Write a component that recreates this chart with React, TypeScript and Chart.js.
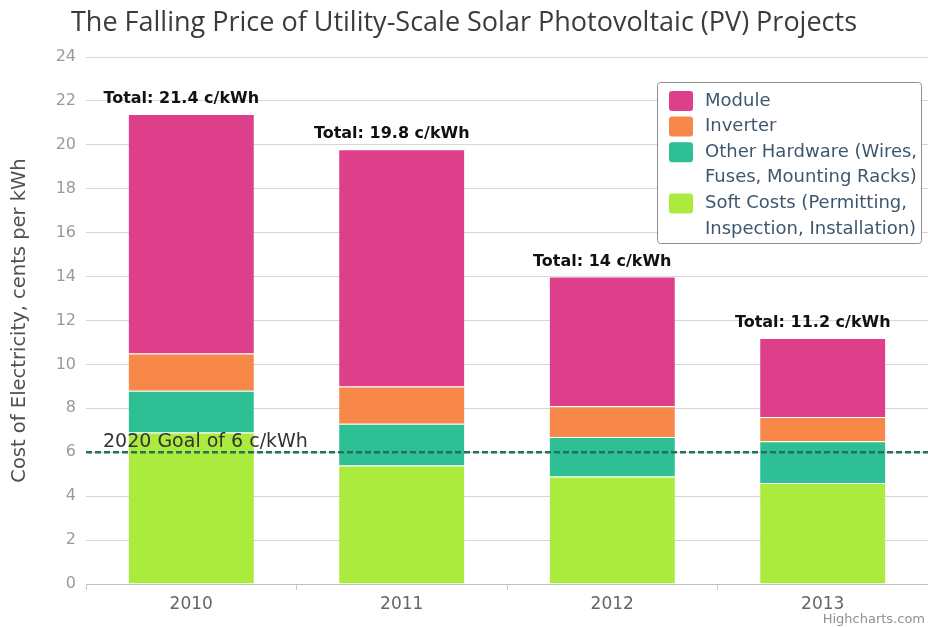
import React, { useEffect, useRef } from "react";
import { Chart, registerables } from "chart.js";

Chart.register(...registerables);

// ---- Data ----
const YEARS = ["2010", "2011", "2012", "2013"];
const SOFT_COSTS = [6.9, 5.4, 4.9, 4.6];
const OTHER_HARDWARE = [1.9, 1.9, 1.8, 1.9];
const INVERTER = [1.7, 1.7, 1.4, 1.1];
const MODULE = [10.9, 10.8, 5.9, 3.6];
const GOAL = 6;
const Y_TICKS = [0, 2, 4, 6, 8, 10, 12, 14, 16, 18, 20, 22, 24];

const TITLE = "The Falling Price of Utility-Scale Solar Photovoltaic (PV) Projects";
const Y_TITLE = "Cost of Electricity, cents per kWh";
const GOAL_LABEL = "2020 Goal of 6 c/kWh";
const CREDITS = "Highcharts.com";
const NAME_MODULE = "Module";
const NAME_INVERTER = "Inverter";
const NAME_HARDWARE = "Other Hardware (Wires,\nFuses, Mounting Racks)";
const NAME_SOFT = "Soft Costs (Permitting,\nInspection, Installation)";

const COLOR_MODULE = "#DE3F8B";
const COLOR_INVERTER = "#F8874A";
const COLOR_HARDWARE = "#2FBF94";
const COLOR_SOFT = "#ABEB3E";

const FONT = "'DejaVu Sans', sans-serif";

function rr(ctx: CanvasRenderingContext2D, x: number, y: number, w: number, h: number, r: number) {
  ctx.beginPath();
  ctx.moveTo(x + r, y);
  ctx.lineTo(x + w - r, y);
  ctx.quadraticCurveTo(x + w, y, x + w, y + r);
  ctx.lineTo(x + w, y + h - r);
  ctx.quadraticCurveTo(x + w, y + h, x + w - r, y + h);
  ctx.lineTo(x + r, y + h);
  ctx.quadraticCurveTo(x, y + h, x, y + h - r);
  ctx.lineTo(x, y + r);
  ctx.quadraticCurveTo(x, y, x + r, y);
  ctx.closePath();
}

const overlayPlugin = {
  id: "overlay",
  afterDatasetsDraw(chart: any) {
    const ctx: CanvasRenderingContext2D = chart.ctx;
    const { chartArea } = chart;
    const yS = chart.scales.y;
    const xS = chart.scales.x;
    ctx.save();
    // goal line
    const gy = yS.getPixelForValue(GOAL);
    ctx.strokeStyle = "#22705F";
    ctx.lineWidth = 2.5;
    ctx.setLineDash([6, 3]);
    ctx.beginPath();
    ctx.moveTo(chartArea.left, gy);
    ctx.lineTo(chartArea.right, gy);
    ctx.stroke();
    ctx.setLineDash([]);
    ctx.fillStyle = "#333333";
    ctx.font = `19px ${FONT}`;
    ctx.textAlign = "left";
    ctx.textBaseline = "alphabetic";
    ctx.fillText(GOAL_LABEL, chartArea.left + 17, gy - 5);

    // totals
    ctx.font = `bold 16px ${FONT}`;
    ctx.fillStyle = "#111111";
    ctx.textAlign = "center";
    YEARS.forEach((_, i) => {
      const total = SOFT_COSTS[i] + OTHER_HARDWARE[i] + INVERTER[i] + MODULE[i];
      const label = `Total: ${Number(total.toFixed(1))} c/kWh`;
      const x = xS.getPixelForValue(i) - 10;
      const y = yS.getPixelForValue(total) - 11;
      ctx.fillText(label, x, y);
    });
    ctx.restore();
  },
  afterDraw(chart: any) {
    const ctx: CanvasRenderingContext2D = chart.ctx;
    ctx.save();
    // title
    ctx.fillStyle = "#3b3b3b";
    ctx.font = `27px 'Open Sans', sans-serif`;
    ctx.textAlign = "center";
    ctx.textBaseline = "alphabetic";
    ctx.fillText(TITLE, chart.width / 2, 31);

    // legend
    const bx = 657, by = 82, bw = 264, bh = 161;
    rr(ctx, bx + 0.5, by + 0.5, bw, bh, 3);
    ctx.fillStyle = "#ffffff";
    ctx.fill();
    ctx.strokeStyle = "#909090";
    ctx.lineWidth = 1;
    ctx.stroke();
    const items = [...chart.data.datasets].reverse();
    let y = 101;
    const lh = 25.6;
    ctx.textAlign = "left";
    ctx.textBaseline = "middle";
    ctx.font = `18px ${FONT}`;
    items.forEach((ds: any) => {
      const lines = String(ds.label).split("\n");
      ctx.fillStyle = ds.backgroundColor;
      rr(ctx, 669, y - 10, 24, 20, 3);
      ctx.fill();
      ctx.fillStyle = "#3E576F";
      lines.forEach((ln, k) => ctx.fillText(ln, 705, y + k * lh));
      y += lines.length * lh;
    });

    // credits
    ctx.font = `13px ${FONT}`;
    ctx.fillStyle = "#909090";
    ctx.textAlign = "right";
    ctx.textBaseline = "alphabetic";
    ctx.fillText(CREDITS, chart.width - 3, chart.height - 4);
    ctx.restore();
  },
};

export default function App() {
  const ref = useRef<HTMLCanvasElement | null>(null);
  useEffect(() => {
    if (!ref.current) return;
    const mk = (label: string, data: number[], color: string) => ({
      label,
      data,
      backgroundColor: color,
      borderColor: "rgba(255,255,255,0.85)",
      borderWidth: { top: 1, bottom: 0, left: 0, right: 0 },
      borderSkipped: false,
      categoryPercentage: 1,
      barPercentage: 0.595,
    });
    const chart = new Chart(ref.current, {
      type: "bar",
      data: {
        labels: YEARS,
        datasets: [
          mk(NAME_SOFT, SOFT_COSTS, COLOR_SOFT),
          mk(NAME_HARDWARE, OTHER_HARDWARE, COLOR_HARDWARE),
          mk(NAME_INVERTER, INVERTER, COLOR_INVERTER),
          mk(NAME_MODULE, MODULE, COLOR_MODULE),
        ] as any,
      },
      options: {
        animation: false,
        responsive: false,
        devicePixelRatio: 1,
        layout: { padding: { top: 57, left: 0, right: 0, bottom: 0 } },
        plugins: {
          legend: { display: false },
          tooltip: { enabled: false },
          title: { display: false },
        },
        scales: {
          x: {
            stacked: true,
            offset: true,
            grid: {
              display: true,
              drawOnChartArea: false,
              drawTicks: true,
              tickLength: 6,
              offset: true,
              color: "#c8c8c8",
            },
            border: { display: true, color: "#c0c0c0", width: 1 },
            ticks: { color: "#666666", font: { family: FONT, size: 17 }, padding: 4 },
            afterFit: (s: any) => {
              s.height = 43;
            },
          },
          y: {
            stacked: true,
            min: 0,
            max: 24,
            afterBuildTicks: (s: any) => {
              s.ticks = Y_TICKS.map((v) => ({ value: v }));
            },
            grid: { color: "#d6d6d6", drawTicks: false },
            border: { display: false },
            ticks: { color: "#9a9a9a", font: { family: FONT, size: 16 }, padding: 10 },
            title: {
              display: true,
              text: Y_TITLE,
              color: "#505050",
              font: { family: FONT, size: 19.5 },
              padding: { top: 8, bottom: 0 },
            },
            afterFit: (s: any) => {
              s.width = 86;
            },
          },
        },
      },
      plugins: [overlayPlugin],
    });
    return () => chart.destroy();
  }, []);
  return (
    <div style={{ position: "absolute", left: 0, top: 0, width: 928, height: 627, background: "#fff" }}>
      <canvas ref={ref} width={928} height={627} style={{ display: "block" }} />
    </div>
  );
}
